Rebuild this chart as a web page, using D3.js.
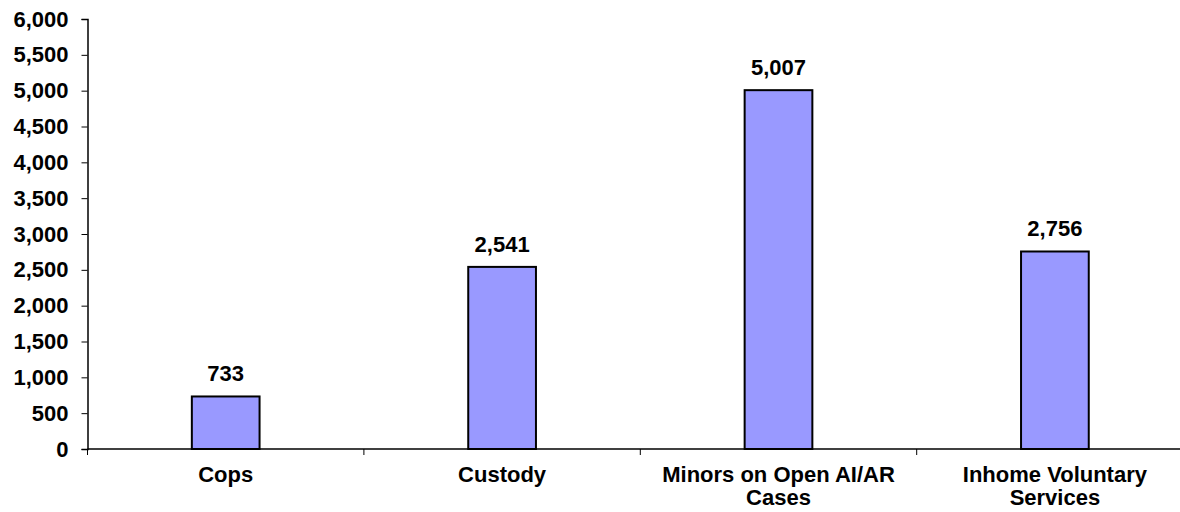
<!DOCTYPE html>
<html><head><meta charset="utf-8">
<script src="https://cdn.jsdelivr.net/npm/d3@7"></script>
<style>
html,body{margin:0;padding:0;background:#fff;}
svg text{font-family:"Liberation Sans",Arial,sans-serif;font-weight:bold;fill:#000;}
</style></head>
<body>
<svg id="chart" width="1180" height="512"></svg>
<script>
const categories = ["Cops", "Custody", "Minors on Open AI/AR Cases", "Inhome Voluntary Services"];
const values = [733, 2541, 5007, 2756];
const yTicks = [0, 500, 1000, 1500, 2000, 2500, 3000, 3500, 4000, 4500, 5000, 5500, 6000];

(function () {
const FS = "22px";
const svg = d3.select("#chart");
const mLeft = 87.5, mTop = 19, mBottom = 449, band = 276.4;
const x = d3.scaleBand().domain(categories).range([mLeft, mLeft + band * categories.length]).paddingInner(0).paddingOuter(0);
const y = d3.scaleLinear().domain([0, 6000]).range([mBottom, mTop]);
const fmt = d3.format(",");
const barW = x.bandwidth() * 0.245;

// y axis
const ya = svg.append("g").attr("transform", `translate(${mLeft},0)`)
  .call(d3.axisLeft(y).tickValues(yTicks).tickFormat(fmt).tickSize(6).tickPadding(13));
ya.select(".domain").attr("stroke", "#000").attr("stroke-width", 1.5);
ya.selectAll(".tick line").attr("stroke", "#000").attr("stroke-width", 1);
ya.selectAll(".tick text").style("font-size", FS).style("font-family", '"Liberation Sans",Arial,sans-serif').style("font-weight", "bold").attr("fill", "#000");

// x axis line and ticks at band boundaries
const xa = svg.append("g").attr("transform", `translate(0,${mBottom})`);
xa.append("line").attr("x1", mLeft).attr("x2", 1180).attr("y1", 0).attr("y2", 0).attr("stroke", "#000").attr("stroke-width", 1.5);
const bounds = categories.map(c => x(c));
xa.selectAll(".xt").data(bounds).join("line").attr("class", "xt")
  .attr("x1", d => d).attr("x2", d => d).attr("y1", 0).attr("y2", 6).attr("stroke", "#000").attr("stroke-width", 1);

// bars
svg.append("g").selectAll("rect").data(values).join("rect")
  .attr("x", (d, i) => x(categories[i]) + x.bandwidth() / 2 - barW / 2)
  .attr("y", d => y(d))
  .attr("width", barW)
  .attr("height", d => mBottom - y(d))
  .attr("fill", "#9999FF").attr("stroke", "#000").attr("stroke-width", 2);

// value labels
svg.append("g").selectAll("text").data(values).join("text")
  .attr("x", (d, i) => x(categories[i]) + x.bandwidth() / 2)
  .attr("y", d => y(d) - 15)
  .attr("text-anchor", "middle").style("font-size", FS)
  .text(d => fmt(d));

// category labels with wrapping
const measure = svg.append("text").style("font-size", FS).attr("opacity", 0);
function wrap(str, maxW) {
  const words = str.split(" "); const lines = []; let cur = "";
  words.forEach(w => {
    const t = cur ? cur + " " + w : w;
    measure.text(t);
    if (measure.node().getComputedTextLength() > maxW && cur) { lines.push(cur); cur = w; } else cur = t;
  });
  if (cur) lines.push(cur);
  return lines;
}
categories.forEach(c => {
  const lines = wrap(c, 250);
  const t = svg.append("text").attr("text-anchor", "middle").style("font-size", FS)
    .attr("x", x(c) + x.bandwidth() / 2).attr("y", 482);
  lines.forEach((l, i) => t.append("tspan").attr("x", x(c) + x.bandwidth() / 2).attr("dy", i === 0 ? 0 : 23).text(l));
});
measure.remove();
})();
</script>
</body></html>
